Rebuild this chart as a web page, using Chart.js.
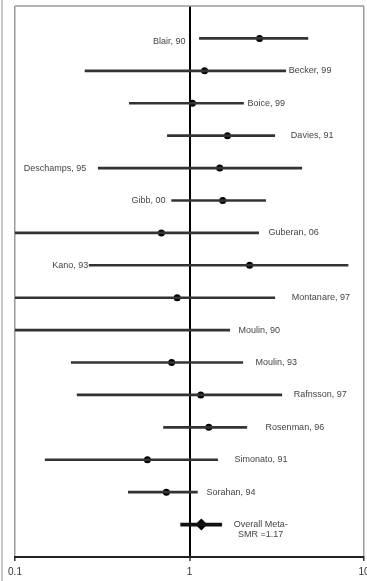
<!DOCTYPE html>
<html>
<head>
<meta charset="utf-8">
<script src="https://cdn.jsdelivr.net/npm/chart.js@4.4.0/dist/chart.umd.min.js"></script>
<style>
	html, body { margin: 0; padding: 0; background: #fff; }
	#wrap { width: 367px; height: 581px; position: relative; }
</style>
</head>
<body>
<div id="wrap"><canvas id="forest"></canvas></div>
<script>
// study rows, top to bottom
const studies = ['Blair, 90', 'Becker, 99', 'Boice, 99', 'Davies, 91', 'Deschamps, 95', 'Gibb, 00', 'Guberan, 06', 'Kano, 93',
	'Montanare, 97', 'Moulin, 90', 'Moulin, 93', 'Rafnsson, 97', 'Rosenman, 96', 'Simonato, 91', 'Sorahan, 94'];
const smr = [2.52, 1.22, 1.04, 1.65, 1.49, 1.55, 0.69, 2.21, 0.85, null, 0.79, 1.16, 1.29, 0.574, 0.737];
const ciLow = [1.14, 0.252, 0.452, 0.747, 0.30, 0.79, 0.09, 0.266, 0.09, 0.09, 0.21, 0.227, 0.71, 0.149, 0.446];
const ciHigh = [4.77, 3.56, 2.04, 3.08, 4.4, 2.73, 2.49, 8.1, 3.08, 1.70, 2.02, 3.38, 2.13, 1.45, 1.11];

const overallLabel = ['Overall Meta-', 'SMR =1.17'];
const overallSmr = [1.17];
const overallLow = [0.89];
const overallHigh = [1.53];

const tickVals = [0.1, 1, 10];
const tickLabels = ['0.1', '1', '10'];

// where each study label sits (x in SMR units) and which way it runs
const labelAt = [0.948, 3.71, 2.15, 3.81, 0.256, 0.728, 2.84, 0.263, 3.86, 1.91, 2.39, 3.96, 2.73, 1.81, 1.25];
const labelAlign = ['right', 'left', 'left', 'left', 'right', 'right', 'left', 'right', 'left', 'left', 'left', 'left', 'left', 'left', 'left'];
const overallLabelAt = 2.56;

const overallRow = studies.length;

const framePlugin = {
	id: 'frame',
	beforeDatasetsDraw(chart) {
		const ctx = chart.ctx, a = chart.chartArea;
		ctx.save();
		ctx.strokeStyle = '#9a9a9a';
		ctx.lineWidth = 1.5;
		ctx.beginPath();
		ctx.moveTo(a.left, a.top);
		ctx.lineTo(a.right, a.top);
		ctx.stroke();
		ctx.strokeStyle = '#b5b5b5';
		ctx.beginPath();
		ctx.moveTo(2, 0);
		ctx.lineTo(2, chart.height);
		ctx.stroke();
		ctx.restore();
	}
};

const labelPlugin = {
	id: 'studyLabels',
	afterDatasetsDraw(chart) {
		const ctx = chart.ctx, x = chart.scales.x, y = chart.scales.y;
		ctx.save();
		ctx.font = '9px "Liberation Sans", Arial, sans-serif';
		ctx.fillStyle = '#444';
		ctx.textBaseline = 'middle';
		studies.forEach((s, i) => {
			ctx.textAlign = labelAlign[i];
			ctx.fillText(s, x.getPixelForValue(labelAt[i]), y.getPixelForValue(i) + (i === 0 ? 3 : 0));
		});
		ctx.textAlign = 'center';
		const oy = y.getPixelForValue(overallRow);
		overallLabel.forEach((t, k) => ctx.fillText(t, x.getPixelForValue(overallLabelAt), oy + k * 10));
		ctx.restore();
	}
};

new Chart(document.getElementById('forest'), {
	type: 'bar',
	data: {
		datasets: [
			{
				data: studies.map((s, i) => ({ x: [ciLow[i], ciHigh[i]], y: i })),
				backgroundColor: '#333',
				barThickness: 2,
				grouped: false
			},
			{
				data: overallSmr.map((v, i) => ({ x: [overallLow[i], overallHigh[i]], y: overallRow })),
				backgroundColor: '#111',
				barThickness: 3,
				grouped: false
			},
			{
				type: 'scatter',
				data: studies.map((s, i) => ({ x: smr[i], y: i })),
				pointRadius: 3.5,
				pointBackgroundColor: '#000',
				pointBorderWidth: 0
			},
			{
				type: 'scatter',
				data: overallSmr.map(v => ({ x: v, y: overallRow })),
				pointStyle: 'rectRot',
				pointRadius: 6,
				pointBackgroundColor: '#000',
				pointBorderWidth: 0
			}
		]
	},
	options: {
		indexAxis: 'y',
		responsive: true,
		maintainAspectRatio: false,
		animation: false,
		layout: { autoPadding: false, padding: { left: 15, right: 3, top: 6, bottom: 0 } },
		plugins: { legend: { display: false }, tooltip: { enabled: false } },
		scales: {
			x: {
				type: 'logarithmic',
				min: 0.1,
				max: 10,
				offset: false,
				afterBuildTicks: s => { s.ticks = tickVals.map(v => ({ value: v })); },
				afterFit: s => { s.height = 24; s.paddingLeft = 0; s.paddingRight = 0; },
				ticks: {
					autoSkip: false,
					maxRotation: 0,
					padding: 5,
					color: '#333',
					font: { family: '"Liberation Sans", Arial, sans-serif', size: 10 },
					callback: (v, i) => tickLabels[i]
				},
				grid: {
					offset: false,
					color: c => c.tick && c.tick.value === 1 ? '#000' : '#9a9a9a',
					lineWidth: c => c.tick && c.tick.value === 1 ? 2 : 1.5,
					tickColor: '#333',
					tickLength: 4,
					tickWidth: 1.5
				},
				border: { color: '#222', width: 2 }
			},
			y: {
				type: 'linear',
				min: -1,
				max: 16,
				reverse: true,
				offset: false,
				grid: { offset: false },
				display: false
			}
		}
	},
	plugins: [framePlugin, labelPlugin]
});
</script>
</body>
</html>
